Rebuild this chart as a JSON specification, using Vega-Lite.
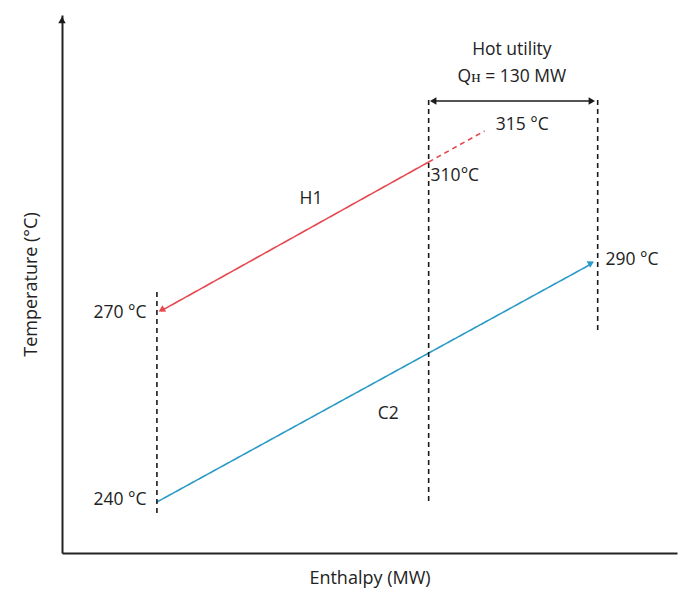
{
  "$schema": "https://vega.github.io/schema/vega-lite/v6.json",
  "width": 615,
  "height": 538,
  "autosize": "none",
  "padding": {"left": 62, "top": 15, "right": 1, "bottom": 46},
  "background": "white",
  "config": {"view": {"stroke": null}, "font": "Open Sans"},
  "datasets": {
    "lines": [
      {"seg": "H1", "kind": "red", "dash": "solid", "x": 282, "y": 391},
      {"seg": "H1", "kind": "red", "dash": "solid", "x": 76, "y": 242},
      {"seg": "H1ext", "kind": "red", "dash": "dashed", "x": 282, "y": 391},
      {"seg": "H1ext", "kind": "red", "dash": "dashed", "x": 325, "y": 422},
      {"seg": "C2", "kind": "blue", "dash": "solid", "x": 73, "y": 51},
      {"seg": "C2", "kind": "blue", "dash": "solid", "x": 407, "y": 289},
      {"seg": "V1", "kind": "black", "dash": "dashed", "x": 73, "y": 261},
      {"seg": "V1", "kind": "black", "dash": "dashed", "x": 73, "y": 36},
      {"seg": "V2", "kind": "black", "dash": "dashed", "x": 282, "y": 453},
      {"seg": "V2", "kind": "black", "dash": "dashed", "x": 282, "y": 48},
      {"seg": "V3", "kind": "black", "dash": "dashed", "x": 412, "y": 453},
      {"seg": "V3", "kind": "black", "dash": "dashed", "x": 412, "y": 221},
      {"seg": "QH", "kind": "black", "dash": "solid", "x": 285, "y": 452},
      {"seg": "QH", "kind": "black", "dash": "solid", "x": 408, "y": 452}
    ],
    "arrows": [
      {"kind": "black", "x": 0, "y": 533, "angle": 0},
      {"kind": "red", "x": 76.5, "y": 243, "angle": 241},
      {"kind": "blue", "x": 407, "y": 290, "angle": 61},
      {"kind": "black", "x": 285.5, "y": 452, "angle": 270},
      {"kind": "black", "x": 407.5, "y": 452, "angle": 90}
    ],
    "labels": [
      {"label": "Hot utility", "align": "center", "x": 346, "y": 503},
      {"label": "Qʜ = 130 MW", "align": "center", "x": 346, "y": 476},
      {"label": "315 °C", "align": "center", "x": 354, "y": 428},
      {"label": "310°C", "align": "left", "x": 283.5, "y": 377},
      {"label": "H1", "align": "center", "x": 191.5, "y": 354},
      {"label": "270 °C", "align": "right", "x": 65, "y": 240},
      {"label": "240 °C", "align": "right", "x": 65, "y": 53},
      {"label": "290 °C", "align": "left", "x": 418, "y": 293},
      {"label": "C2", "align": "center", "x": 251, "y": 139}
    ]
  },
  "layer": [
    {
      "data": {"name": "lines"},
      "mark": {"type": "line", "strokeWidth": 1.6},
      "encoding": {
        "x": {"field": "x", "type": "quantitative", "scale": {"domain": [0, 473], "nice": false, "zero": false},
              "axis": {"title": "Enthalpy (MW)", "labels": false, "ticks": false, "grid": false, "domainColor": "#222", "domainWidth": 2, "titleFont": "Open Sans", "titleFontSize": 18, "titleFontWeight": "normal", "titleColor": "#222", "titlePadding": 16}},
        "y": {"field": "y", "type": "quantitative", "scale": {"domain": [0, 538], "nice": false, "zero": false},
              "axis": {"title": "Temperature (°C)", "labels": false, "ticks": false, "grid": false, "domainColor": "#222", "domainWidth": 2, "titleFont": "Open Sans", "titleFontSize": 18, "titleFontWeight": "normal", "titleColor": "#222", "titlePadding": 22}},
        "detail": {"field": "seg"},
        "color": {"field": "kind", "type": "nominal", "scale": {"domain": ["red", "blue", "black"], "range": ["#e5484f", "#2a9ac6", "#1a1a1a"]}, "legend": null},
        "strokeDash": {"field": "dash", "type": "nominal", "scale": {"domain": ["solid", "dashed"], "range": [[1, 0], [5, 4]]}, "legend": null}
      }
    },
    {
      "data": {"name": "arrows"},
      "mark": {"type": "point", "shape": "triangle-up", "filled": true, "size": 55, "opacity": 1},
      "encoding": {
        "x": {"field": "x", "type": "quantitative"},
        "y": {"field": "y", "type": "quantitative"},
        "angle": {"field": "angle", "type": "quantitative", "scale": null},
        "color": {"field": "kind", "type": "nominal", "scale": {"domain": ["red", "blue", "black"], "range": ["#e5484f", "#2a9ac6", "#1a1a1a"]}, "legend": null}
      }
    },
    {
      "data": {"name": "labels"},
      "transform": [{"filter": "datum.align === 'center'"}],
      "mark": {"type": "text", "align": "center", "baseline": "middle", "fontSize": 17.5, "color": "#222", "font": "Open Sans"},
      "encoding": {
        "x": {"field": "x", "type": "quantitative"},
        "y": {"field": "y", "type": "quantitative"},
        "text": {"field": "label"}
      }
    },
    {
      "data": {"name": "labels"},
      "transform": [{"filter": "datum.align === 'left'"}],
      "mark": {"type": "text", "align": "left", "baseline": "middle", "fontSize": 17.5, "color": "#222", "font": "Open Sans"},
      "encoding": {
        "x": {"field": "x", "type": "quantitative"},
        "y": {"field": "y", "type": "quantitative"},
        "text": {"field": "label"}
      }
    },
    {
      "data": {"name": "labels"},
      "transform": [{"filter": "datum.align === 'right'"}],
      "mark": {"type": "text", "align": "right", "baseline": "middle", "fontSize": 17.5, "color": "#222", "font": "Open Sans"},
      "encoding": {
        "x": {"field": "x", "type": "quantitative"},
        "y": {"field": "y", "type": "quantitative"},
        "text": {"field": "label"}
      }
    }
  ]
}
